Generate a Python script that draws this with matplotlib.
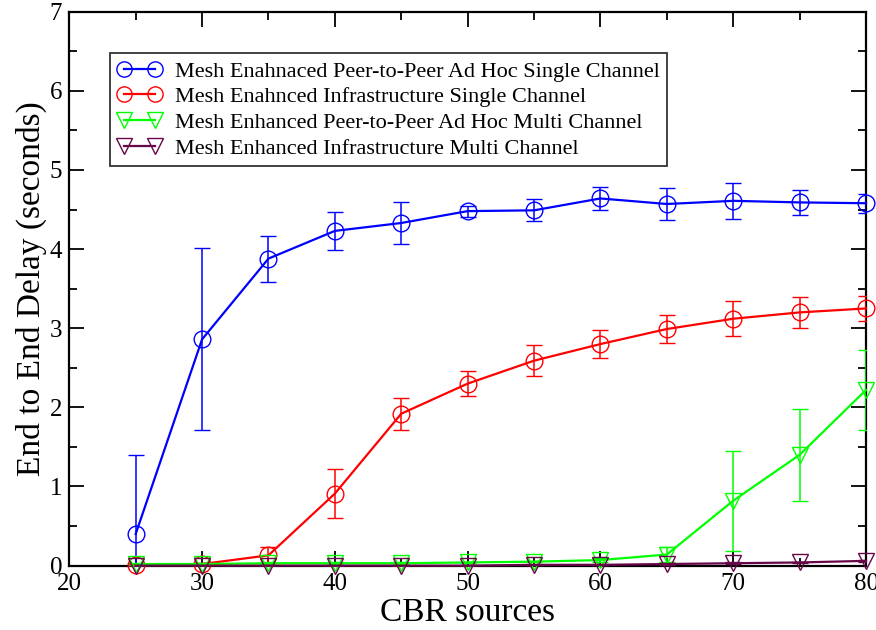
import matplotlib
matplotlib.use("Agg")
import matplotlib.pyplot as plt
from matplotlib.ticker import MultipleLocator
from matplotlib.lines import Line2D

plt.rcParams['font.family'] = ['Liberation Serif', 'DejaVu Serif']

cbr_sources = [25, 30, 35, 40, 45, 50, 55, 60, 65, 70, 75, 80]

adhoc_single = [0.40, 2.86, 3.88, 4.23, 4.33, 4.48, 4.49, 4.64, 4.57, 4.61, 4.59, 4.58]
adhoc_single_err = [1.00, 1.15, 0.29, 0.24, 0.27, 0.07, 0.14, 0.15, 0.20, 0.23, 0.16, 0.12]

infra_single = [0.01, 0.02, 0.13, 0.91, 1.92, 2.30, 2.59, 2.80, 2.99, 3.12, 3.20, 3.25]
infra_single_err = [0.01, 0.01, 0.10, 0.31, 0.20, 0.16, 0.20, 0.18, 0.18, 0.22, 0.20, 0.16]

adhoc_multi = [0.02, 0.02, 0.03, 0.03, 0.03, 0.04, 0.05, 0.07, 0.14, 0.82, 1.40, 2.22]
adhoc_multi_err = [0.01, 0.01, 0.01, 0.01, 0.01, 0.01, 0.01, 0.02, 0.10, 0.63, 0.58, 0.51]

infra_multi = [0.00, 0.00, 0.00, 0.00, 0.00, 0.00, 0.01, 0.01, 0.02, 0.03, 0.04, 0.06]
infra_multi_err = [0.00, 0.00, 0.00, 0.00, 0.00, 0.00, 0.00, 0.00, 0.01, 0.01, 0.01, 0.01]

labels = [
    "Mesh Enahnaced Peer-to-Peer Ad Hoc Single Channel",
    "Mesh Enahnced Infrastructure Single Channel",
    "Mesh Enhanced Peer-to-Peer Ad Hoc Multi Channel",
    "Mesh Enhanced Infrastructure Multi Channel",
]

series = [
    (adhoc_single, adhoc_single_err, '#0000ff', 'o'),
    (infra_single, infra_single_err, '#ff0000', 'o'),
    (adhoc_multi, adhoc_multi_err, '#00ff00', 'v'),
    (infra_multi, infra_multi_err, '#670748', 'v'),
]

MS = 12
fig = plt.figure(figsize=(8.76, 6.30), dpi=100)
ax = fig.add_axes([0.0791, 0.1022, 0.9095, 0.8792])

handles = []
for (vals, errs, col, mk), lab in zip(series, labels):
    data_line, caps, bars = ax.errorbar(
        cbr_sources, vals, yerr=errs, color=col, marker=mk,
        markersize=MS, markerfacecolor='none', markeredgecolor=col,
        markeredgewidth=1.0, linewidth=1.6, elinewidth=1.1,
        capsize=5.5, capthick=1.1)
    # markers sitting on the axes edges are drawn whole
    data_line.set_clip_on(False)
    handles.append(Line2D([], [], color=col, marker=mk, markersize=11,
                          markerfacecolor='none', markeredgecolor=col,
                          markeredgewidth=1.0, linewidth=1.6, label=lab))

ax.set_xlim(20, 80)
ax.set_ylim(0, 7)
ax.xaxis.set_major_locator(MultipleLocator(10))
ax.xaxis.set_minor_locator(MultipleLocator(5))
ax.yaxis.set_major_locator(MultipleLocator(1))
ax.yaxis.set_minor_locator(MultipleLocator(0.5))
ax.tick_params(which='both', direction='in', top=True, right=True,
               width=1.3, colors='black', labelsize=18)
ax.tick_params(which='major', length=11)
ax.tick_params(which='minor', length=5.8)
ax.tick_params(axis='x', pad=5)
ax.tick_params(axis='y', pad=5)
for sp in ax.spines.values():
    sp.set_linewidth(1.6)
    sp.set_zorder(1.5)

ax.set_xlabel("CBR sources", fontsize=24, labelpad=2)
ax.set_ylabel("End to End Delay (seconds)", fontsize=24, labelpad=2)

leg = ax.legend(handles=handles, loc='upper left',
                bbox_to_anchor=(0.0505, 0.925),
                fontsize=16, numpoints=2, handlelength=2.0,
                handletextpad=0.58, labelspacing=0.23, borderpad=0.35,
                borderaxespad=0, fancybox=False, frameon=True)
leg.get_frame().set_edgecolor('black')
leg.get_frame().set_linewidth(1.3)

fig.savefig("out.png", dpi=100)
